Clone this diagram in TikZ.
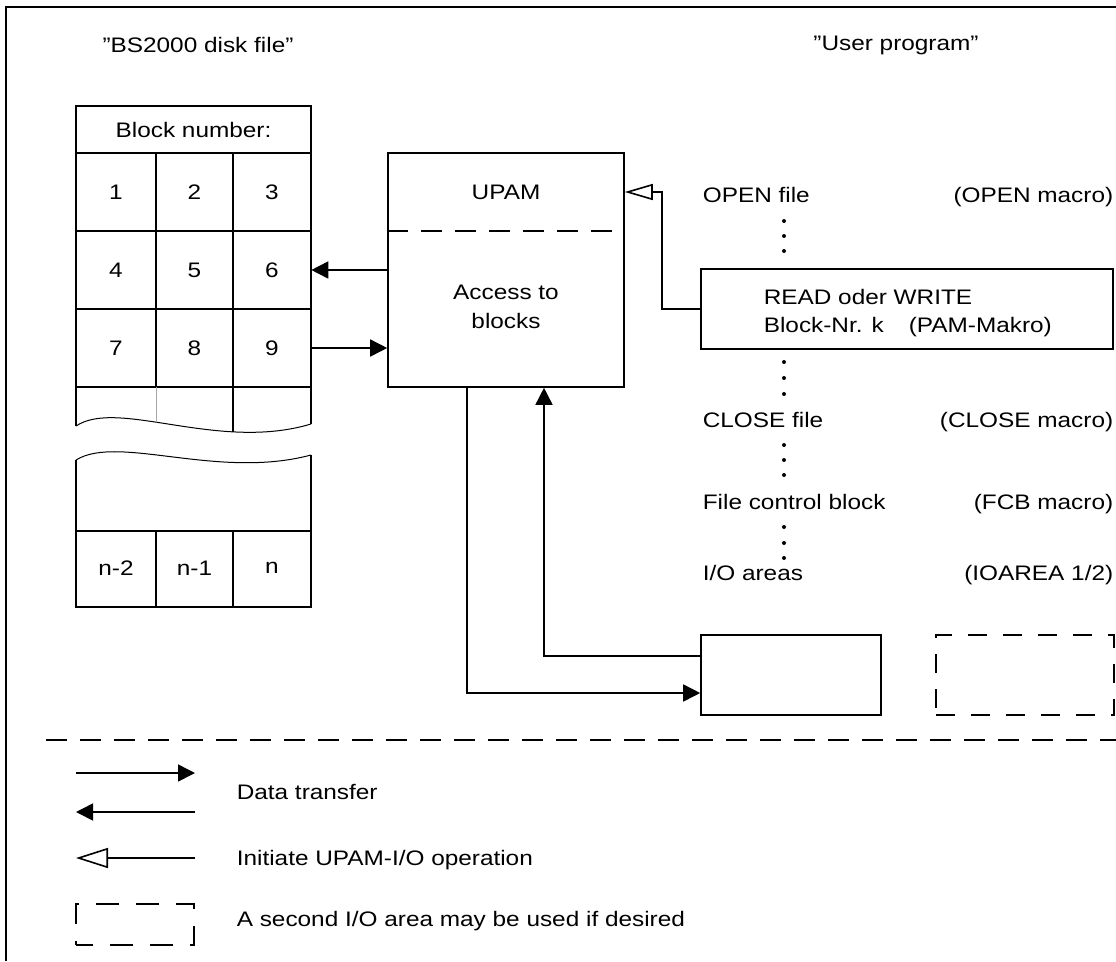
\documentclass[tikz,border=0pt]{standalone}
\usepackage{fontspec}
\setmainfont{Liberation Sans}[FakeStretch=1.16]
\usetikzlibrary{arrows.meta}
\begin{document}
\begin{tikzpicture}[x=1pt,y=-1pt,line width=1.6pt,
  txt/.style={font=\fontsize{21}{29}\selectfont,inner sep=0pt},
  cell/.style={txt,minimum width=77pt,minimum height=77pt},
  box/.style={draw,inner sep=0pt},
  dsh/.style={dash pattern=on 21pt off 13pt},
  fa/.style={-{Triangle[length=17pt,width=17pt]}},
  oa/.style={-{Triangle[open,length=28pt,width=16pt,line width=1.6pt]}},
  oal/.style={-{Triangle[open,length=32pt,width=20pt,line width=1.6pt]}},
  dot/.style={circle,fill,inner sep=0pt,minimum size=4pt}]
\useasboundingbox (0,0) rectangle (1116,961);
% frame
\draw (6,961) -- (6,7) -- (1116,7);
% headers
\node[txt] (h1) at (198,45) {"BS2000 disk file"};
\node[txt] (h2) at (896,45) {"User program"};
% upper table
\draw (76,426) -- (76,106) -- (311,106) -- (311,424);
\draw (76,153) -- (311,153);
\draw (76,231) -- (311,231);
\draw (76,309) -- (311,309);
\draw (76,387) -- (311,387);
\draw (156,153) -- (156,387);
\draw (233,153) -- (233,387);
\draw[line width=1pt] (76,426) .. controls (118,398) and (218,452) .. (311,424);
\begin{scope}
\clip (76,387) -- (311,387) -- (311,424) .. controls (218,452) and (118,398) .. (76,426) -- cycle;
\draw[gray!70,line width=1pt] (156,387) -- (156,460);
\draw (233,387) -- (233,460);
\end{scope}
\node[txt] (bn) at (193.5,130) {Block number:};
\node[cell] (c1) at (116,192) {1};
\node[cell] (c2) at (194.5,192) {2};
\node[cell] (c3) at (272,192) {3};
\node[cell] (c4) at (116,270) {4};
\node[cell] (c5) at (194.5,270) {5};
\node[cell] (c6) at (272,270) {6};
\node[cell] (c7) at (116,348) {7};
\node[cell] (c8) at (194.5,348) {8};
\node[cell] (c9) at (272,348) {9};
% lower table
\draw[line width=1pt] (76,460) .. controls (118,434) and (218,480) .. (311,455);
\draw (76,460) -- (76,607) -- (311,607) -- (311,455);
\draw (76,531) -- (311,531);
\draw (156,531) -- (156,607);
\draw (233,531) -- (233,607);
\node[cell,minimum height=76pt] (cn2) at (116,568) {n-2};
\node[cell,minimum height=76pt] (cn1) at (194.5,568) {n-1};
\node[cell,minimum height=76pt] (cn) at (272,568) {n};
% UPAM box
\node[box,minimum width=236pt,minimum height=234pt] (upam) at (506,270) {};
\draw[dsh] (upam.west |- 0,231) -- (upam.east |- 0,231);
\node[txt] (upamlbl) at (506,192) {UPAM};
\node[txt,align=center] (access) at (506,307) {Access to\\blocks};
% arrows to/from table
\draw[fa] (upam.west |- c6) -- (c6.east);
\draw[fa] (c9.east) -- (upam.west |- c9);
% READ/WRITE box
\node[box,minimum width=412pt,minimum height=80pt] (rw) at (907,309) {};
\node[txt,anchor=base west] (rw1) at (763,304.5) {READ oder WRITE};
\node[txt,anchor=base west] (rw2) at (763,332.5) {Block-Nr. k};
\node[txt,anchor=base west] (rw3) at (908,332.5) {(PAM-Makro)};
\coordinate (bend) at (662,309);
\draw[oa] (rw.west) -- (bend) |- (upamlbl -| upam.east);
% right column
\node[txt,anchor=base west] (open) at (702,202.5) {OPEN file};
\node[txt,anchor=base east] (openm) at (1114,202.5) {(OPEN macro)};
\node[txt,anchor=base west] (close) at (702,427.5) {CLOSE file};
\node[txt,anchor=base east] (closem) at (1114,427.5) {(CLOSE macro)};
\node[txt,anchor=base west] (fcb) at (702,509.5) {File control block};
\node[txt,anchor=base east] (fcbm) at (1114,509.5) {(FCB macro)};
\node[txt,anchor=base west] (ioa) at (702,580.5) {I/O areas};
\node[txt,anchor=base east] (ioam) at (1114,580.5) {(IOAREA 1/2)};
\foreach \y [count=\i] in {221,236,251,362,378,394,445,460,475,527,543,558}
  \node[dot] (dt\i) at (784,\y) {};
% I/O areas
\node[box,minimum width=180pt,minimum height=80pt] (io) at (791,675) {};
\node[box,dash pattern=on 19pt off 16pt,minimum width=178pt,minimum height=80pt] (io2) at (1025,675) {};
\coordinate (d1) at (467,693);
\coordinate (d2) at (544,656);
\draw[fa] (upam.south -| d1) -- (d1) -- (io.west |- d1);
\draw[fa] (io.west |- d2) -- (d2) -- (upam.south -| d2);
% legend
\coordinate (s1) at (46,740);
\coordinate (s2) at (1116,740);
\draw[dsh] (s1) -- (s2);
\coordinate (la1) at (76,773);
\coordinate (la2) at (195,773);
\coordinate (lb1) at (195,812);
\coordinate (lb2) at (76,812);
\coordinate (lc1) at (195,858);
\coordinate (lc2) at (76,858);
\draw[fa] (la1) -- (la2);
\draw[fa] (lb1) -- (lb2);
\draw[oal] (lc1) -- (lc2);
\node[box,dash pattern=on 23pt off 17pt,dash phase=6pt,minimum width=118pt,minimum height=41pt,line width=1.3pt] (lbox) at (135,924.5) {};
\node[txt,anchor=base west] (l1) at (236,799.5) {Data transfer};
\node[txt,anchor=base west] (l2) at (236,865.5) {Initiate UPAM-I/O operation};
\node[txt,anchor=base west] (l3) at (236,926.5) {A second I/O area may be used if desired};
\end{tikzpicture}
\end{document}
